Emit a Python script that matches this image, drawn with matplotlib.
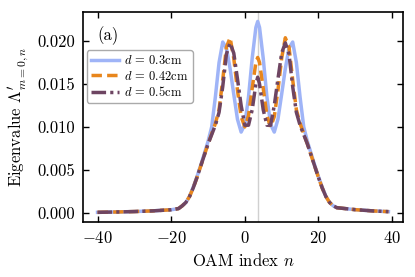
import matplotlib
matplotlib.use("Agg")
import matplotlib.pyplot as plt

plt.rcParams['font.family'] = 'serif'
plt.rcParams['font.serif'] = ['cmr10', 'DejaVu Serif']
plt.rcParams['mathtext.fontset'] = 'cm'
plt.rcParams['axes.formatter.use_mathtext'] = True

# OAM index n (non-uniform sampling)
n = [-40, -35, -30, -25, -20, -18, -17, -16, -15, -14, -13, -12, -11, -10,
     -9, -8, -7, -6, -5, -4, -3, -2, -1, 0, 1, 2, 3, 3.5,
     4, 5, 6, 7, 8, 9, 10, 11, 12, 13, 14, 15, 16, 17, 18, 19, 20,
     21, 22, 23, 24, 25, 30, 35, 39]

# d = 0.3 cm
eig_03 = [0.00004, 0.00008, 0.00013, 0.00021, 0.00034, 0.00048, 0.0008, 0.0012,
          0.0019, 0.0030, 0.0042, 0.0055, 0.0069, 0.0083,
          0.0100, 0.0135, 0.0175, 0.0199, 0.0192, 0.0168, 0.0138, 0.0109,
          0.0094, 0.0103, 0.0135, 0.0180, 0.0216, 0.0223,
          0.0216, 0.0180, 0.0135, 0.0103, 0.0094, 0.0109, 0.0138, 0.0168,
          0.0192, 0.0199, 0.0175, 0.0135, 0.0100, 0.0083, 0.0069, 0.0055,
          0.0042, 0.0030, 0.0019, 0.0012, 0.0008, 0.00058, 0.00035, 0.00020, 0.00012]

# d = 0.42 cm
eig_042 = [0.00004, 0.00008, 0.00013, 0.00021, 0.00034, 0.00048, 0.0008, 0.0012,
           0.0019, 0.0029, 0.0041, 0.0054, 0.0067, 0.0080,
           0.0092, 0.0104, 0.0120, 0.0155, 0.0193, 0.0204, 0.0180, 0.0143,
           0.0112, 0.0100, 0.0113, 0.0145, 0.0175, 0.0181,
           0.0175, 0.0145, 0.0113, 0.0100, 0.0112, 0.0143, 0.0180, 0.0204,
           0.0193, 0.0155, 0.0120, 0.0104, 0.0092, 0.0080, 0.0067, 0.0054,
           0.0041, 0.0029, 0.0019, 0.0012, 0.0008, 0.00058, 0.00035, 0.00020, 0.00012]

# d = 0.5 cm
eig_05 = [0.00004, 0.00008, 0.00013, 0.00021, 0.00034, 0.00048, 0.0008, 0.0012,
          0.0019, 0.0029, 0.0041, 0.0054, 0.0067, 0.0080,
          0.0091, 0.0102, 0.0117, 0.0147, 0.0185, 0.0198, 0.0186, 0.0156,
          0.0125, 0.0102, 0.0102, 0.0120, 0.0150, 0.0158,
          0.0150, 0.0120, 0.0102, 0.0102, 0.0125, 0.0156, 0.0186, 0.0198,
          0.0185, 0.0147, 0.0117, 0.0102, 0.0091, 0.0080, 0.0067, 0.0054,
          0.0041, 0.0029, 0.0019, 0.0012, 0.0008, 0.00058, 0.00035, 0.00020, 0.00012]

center_n = 3.5

fig = plt.figure(figsize=(4.15, 2.77), dpi=100)
ax = fig.add_axes([0.2, 0.199, 0.771, 0.758])

ax.axvline(center_n, color='#d0d0d0', linewidth=1.0, zorder=0)
ax.plot(n, eig_03, color='#9fb4f7', linewidth=2.5, label=r'$d$ = 0.3cm')
ax.plot(n, eig_042, color='#e8861c', linewidth=2.5, linestyle=(0, (3.0, 1.5)),
        label=r'$d$ = 0.42cm')
ax.plot(n, eig_05, color='#6e4562', linewidth=2.5, linestyle=(0, (4.2, 1.2, 0.9, 1.2)),
        label=r'$d$ = 0.5cm')

ax.set_xticks([-40, -20, 0, 20, 40])
ax.set_yticks([0.0, 0.005, 0.010, 0.015, 0.020])
ax.yaxis.set_major_formatter(matplotlib.ticker.FormatStrFormatter('%.3f'))
ax.tick_params(direction='in', top=True, right=True, length=4, width=1,
               labelsize=12, pad=6)
for s in ax.spines.values():
    s.set_linewidth(1.2)

ax.set_xlabel(r'OAM index $n$', fontsize=12, labelpad=4)
ax.set_ylabel(r"Eigenvalue $\Lambda^{\prime}_{m=0,n}$", fontsize=12, labelpad=4)
ax.text(0.045, 0.885, '(a)', transform=ax.transAxes, fontsize=12, va='center')

leg = ax.legend(loc='upper left', bbox_to_anchor=(0.0, 0.835), fontsize=9,
                handlelength=2.3, handletextpad=0.4, labelspacing=0.2,
                borderpad=0.3, borderaxespad=0.3, framealpha=1.0, fancybox=True)
leg.get_frame().set_edgecolor('#aaaaaa')
leg.get_frame().set_linewidth(1.0)

fig.savefig('out.png', dpi=100)
